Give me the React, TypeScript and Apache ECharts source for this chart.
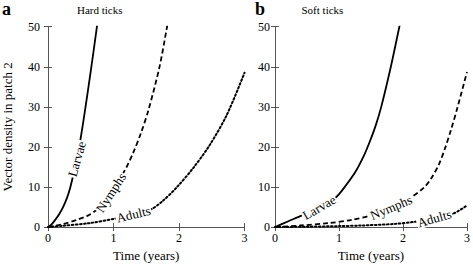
import React, { useEffect, useRef } from "react";
import * as echarts from "echarts";

const FONT = '"Liberation Serif", "DejaVu Serif", serif';

const xTicks = [0, 1, 2, 3];
const yTicks = [0, 10, 20, 30, 40, 50];
const panelLetters = ["a", "b"];
const panelTitles = ["Hard ticks", "Soft ticks"];
const seriesNames = ["Larvae", "Nymphs", "Adults"];

// Panel a (hard ticks)
const larvaeA = [[0, 0], [0.05, 0.6], [0.11, 1.8], [0.17, 3.2], [0.23, 5], [0.29, 7.3], [0.34, 9.9], [0.39, 13.3], [0.44, 17.0], [0.48, 20.4], [0.51, 23.3], [0.553, 27.8], [0.65, 38.6], [0.747, 50], [0.8, 56.5]];
const nymphsA = [[0, 0], [0.24, 0.8], [0.44, 1.8], [0.6, 2.8], [0.72, 4.0], [0.85, 6.0], [0.96, 8.6], [1.08, 11.6], [1.2, 15.0], [1.3, 18.5], [1.42, 23.5], [1.535, 29.3], [1.7, 39.8], [1.81, 49.3], [1.86, 54]];
const adultsA = [[0, 0], [0.2, 0.3], [0.64, 1.0], [1.05, 2.2], [1.305, 3.2], [1.56, 4.3], [1.75, 6.5], [1.97, 10], [2.22, 14.8], [2.47, 20.5], [2.73, 28], [3, 38.5]];
const labelPointsA = [[0.44, 17.0], [0.96, 8.6], [1.305, 3.2]];
const labelAnglesA = [74, 57, 14];

// Panel b (soft ticks)
const larvaeB = [[0, 0], [0.2, 1.4], [0.43, 3.0], [0.69, 4.9], [0.95, 7.4], [1.07, 9.6], [1.25, 13.6], [1.38, 17.5], [1.48, 21.3], [1.57, 25.2], [1.66, 30], [1.81, 40], [1.943, 50], [2.0, 54.5]];
const nymphsB = [[0, 0], [0.4, 0.4], [0.84, 1.0], [1.2, 1.8], [1.51, 3.0], [1.814, 4.9], [2.12, 7.4], [2.33, 9.9], [2.45, 12.4], [2.56, 15.6], [2.66, 19.8], [2.75, 24.3], [2.84, 29.2], [3, 38.7]];
const adultsB = [[0, 0], [0.5, 0.1], [1.0, 0.25], [1.35, 0.4], [1.87, 0.8], [2.22, 1.4], [2.49, 2.2], [2.79, 3.4], [3, 5.4]];
const labelPointsB = [[0.69, 4.9], [1.814, 4.9], [2.49, 2.2]];
const labelAnglesB = [30, 23, 16];

const panels = [
  { curves: [larvaeA, nymphsA, adultsA], labelPoints: labelPointsA, labelAngles: labelAnglesA },
  { curves: [larvaeB, nymphsB, adultsB], labelPoints: labelPointsB, labelAngles: labelAnglesB },
];

const lineTypes: any[] = ["solid", [5, 3], [1.6, 2.4]];

const grids = [
  { left: 47.7, top: 26.7, width: 196.8, height: 205.6 },
  { left: 275, top: 26.7, width: 195.5, height: 205.6 },
];

export default function App() {
  const ref = useRef<HTMLDivElement>(null);
  useEffect(() => {
    document.body.style.margin = "0";
    const chart = echarts.init(ref.current!, null, { renderer: "svg" });
    const axisColor = "#555";
    const xAxes: any[] = [];
    const yAxes: any[] = [];
    const series: any[] = [];
    grids.forEach((g, gi) => {
      const baseX = {
        type: "value",
        gridIndex: gi,
        min: xTicks[0],
        max: xTicks[xTicks.length - 1],
        interval: 1,
        splitLine: { show: false },
        axisLine: { show: true, lineStyle: { color: axisColor, width: 1 } },
        axisTick: { show: true, inside: true, length: 4, lineStyle: { color: axisColor } },
      };
      xAxes.push({
        ...baseX,
        position: "bottom",
        axisLabel: { show: true, margin: 5, fontSize: 12, color: "#000", fontFamily: FONT },
        name: "Time (years)",
        nameLocation: "middle",
        nameGap: 21,
        nameTextStyle: { fontSize: 13, color: "#000", fontFamily: FONT },
      });
      xAxes.push({ ...baseX, position: "top", axisLabel: { show: false } });
      const baseY = {
        type: "value",
        gridIndex: gi,
        min: yTicks[0],
        max: yTicks[yTicks.length - 1],
        interval: 10,
        splitLine: { show: false },
        axisLine: { show: true, lineStyle: { color: axisColor, width: 1 } },
        axisTick: { show: true, inside: true, length: 4, lineStyle: { color: axisColor } },
      };
      yAxes.push({
        ...baseY,
        position: "left",
        axisLabel: { show: true, margin: gi === 0 ? 8 : 5, fontSize: 12, color: "#000", fontFamily: FONT },
        name: gi === 0 ? "Vector density in patch 2" : "",
        nameLocation: "middle",
        nameGap: 34,
        nameTextStyle: { fontSize: 13, color: "#000", fontFamily: FONT, padding: [0, 0, 0, 0] },
      });
      yAxes.push({ ...baseY, position: "right", axisLabel: { show: false } });

      const p = panels[gi];
      p.curves.forEach((curve, ci) => {
        const lp = p.labelPoints[ci];
        const data = curve.map((pt) => {
          if (pt[0] === lp[0] && pt[1] === lp[1]) {
            return {
              value: pt,
              label: {
                show: true,
                formatter: seriesNames[ci],
                position: "inside",
                rotate: p.labelAngles[ci],
                fontSize: 13,
                fontFamily: FONT,
                color: "#000",
                backgroundColor: "#fff",
                padding: [0, 1],
              },
            };
          }
          return { value: pt };
        });
        series.push({
          type: "line",
          name: seriesNames[ci] + (gi === 0 ? " a" : " b"),
          xAxisIndex: gi * 2,
          yAxisIndex: gi * 2,
          data,
          smooth: 0.3,
          showSymbol: true,
          showAllSymbol: true,
          symbol: "circle",
          symbolSize: 0,
          clip: true,
          lineStyle: { color: "#000", width: ci === 2 ? 2 : 1.8, type: lineTypes[ci], cap: ci === 2 ? "round" : "butt" },
          itemStyle: { color: "#000" },
          label: { show: false },
          emphasis: { disabled: true },
          z: 2,
        });
      });
    });

    const graphics: any[] = [
      { type: "text", x: 2, y: 9, style: { text: panelLetters[0], font: `bold 18px ${FONT}`, fill: "#000", verticalAlign: "middle" } },
      { type: "text", x: 77, y: 10, style: { text: panelTitles[0], font: `11px ${FONT}`, fill: "#000", verticalAlign: "middle" } },
      { type: "text", x: 255, y: 9, style: { text: panelLetters[1], font: `bold 18px ${FONT}`, fill: "#000", verticalAlign: "middle" } },
      { type: "text", x: 301.5, y: 10, style: { text: panelTitles[1], font: `11px ${FONT}`, fill: "#000", verticalAlign: "middle" } },
    ];

    chart.setOption({
      animation: false,
      backgroundColor: "#fff",
      grid: grids,
      xAxis: xAxes,
      yAxis: yAxes,
      series,
      graphic: graphics,
    });
    return () => chart.dispose();
  }, []);
  return <div ref={ref} style={{ width: 473, height: 267 }} />;
}
